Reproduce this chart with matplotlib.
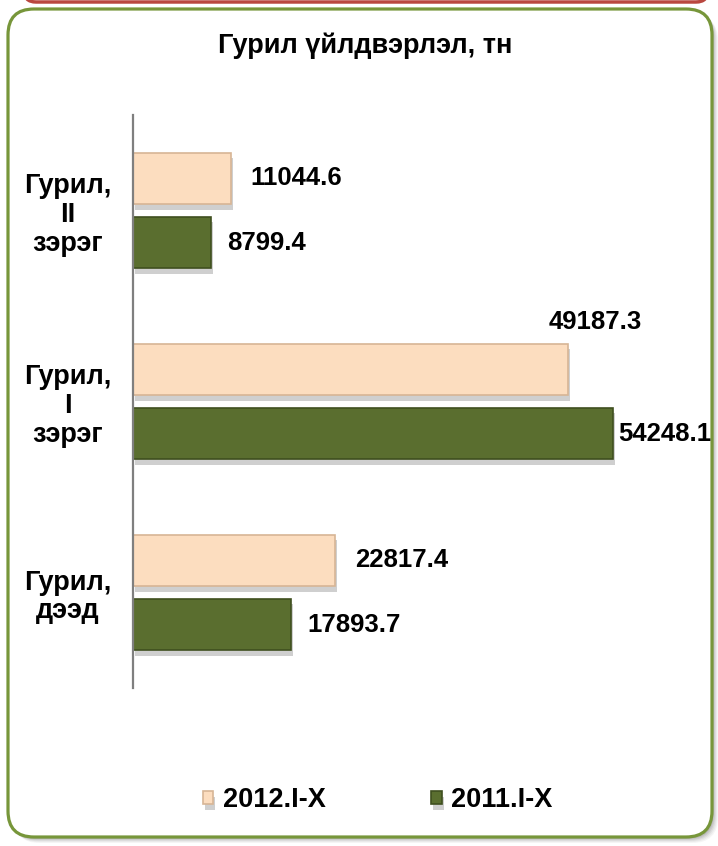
import matplotlib.pyplot as plt
import matplotlib.patheffects as pe
from matplotlib.patches import FancyBboxPatch

# data
categories = ["Гурил,\nII\nзэрэг", "Гурил,\nI\nзэрэг", "Гурил,\nдээд"]
series_names = ["2012.I-X", "2011.I-X"]
values_2012 = [11044.6, 49187.3, 22817.4]
values_2011 = [8799.4, 54248.1, 17893.7]
title = "Гурил үйлдвэрлэл, тн"

plt.rcParams['font.family'] = ['Liberation Sans', 'DejaVu Sans']

fig = plt.figure(figsize=(7.18, 8.46), dpi=100)

# background layer in pixel coordinates (frame, shadow)
bg = fig.add_axes([0, 0, 1, 1], zorder=-5)
bg.set_xlim(0, 718)
bg.set_ylim(846, 0)
bg.axis('off')
for i, a in enumerate([0.05, 0.06, 0.08, 0.1, 0.12]):
    d = 6 - i
    bg.add_patch(FancyBboxPatch((8 + d, 9 + d), 704, 828, boxstyle="round,pad=0,rounding_size=26",
                                facecolor='#404040', edgecolor='none', alpha=a))
bg.add_patch(FancyBboxPatch((8, 9), 704, 828, boxstyle="round,pad=0,rounding_size=26",
                            facecolor='white', edgecolor='#77963A', linewidth=2.3))
bg.add_patch(FancyBboxPatch((24, -60), 684, 62, boxstyle="round,pad=0,rounding_size=12",
                            facecolor='white', edgecolor='#B9473F', linewidth=2.5))

fig.text(0.508, 0.946, title, ha='center', va='center', fontsize=19.5, fontweight='bold')

ax = fig.add_axes([133 / 718, 1 - 688 / 846, 531 / 718, 573 / 846])
ax.set_xlim(0, 60000)
ax.set_ylim(-0.5, 2.5)
ypos = [2, 1, 0]
off = 0.168
h = 0.27

shadow = [pe.SimplePatchShadow(offset=(1.5, -4), shadow_rgbFace='#777777', alpha=0.35), pe.Normal()]
b1 = ax.barh([y + off for y in ypos], values_2012, height=h, color='#FCDDBF',
             edgecolor='#D7B595', linewidth=1.2, label=series_names[0])
b2 = ax.barh([y - off for y in ypos], values_2011, height=h, color='#5A6E2F',
             edgecolor='#3F4F1F', linewidth=1.2, label=series_names[1])
for b in list(b1) + list(b2):
    b.set_path_effects(shadow)

# value labels
for i, v in enumerate(values_2012):
    if v == max(values_2012) and max(values_2012) > 40000:
        ax.annotate(f"{v:.1f}", (v, ypos[i] + off), xytext=(27, 47), textcoords='offset pixels',
                    ha='center', va='center', fontsize=18.5, fontweight='bold')
    else:
        ax.annotate(f"{v:.1f}", (v, ypos[i] + off), xytext=(20, 0), textcoords='offset pixels',
                    ha='left', va='center', fontsize=18.5, fontweight='bold')
for i, v in enumerate(values_2011):
    dx = 5 if v == max(values_2011) else 16
    ax.annotate(f"{v:.1f}", (v, ypos[i] - off), xytext=(dx, 0), textcoords='offset pixels',
                ha='left', va='center', fontsize=18.5, fontweight='bold')

ax.set_yticks(ypos)
ax.set_yticklabels(categories, fontsize=19.5, fontweight='bold', ha='center', linespacing=1.15)
ax.tick_params(axis='y', length=0, pad=47)
ax.set_xticks([])
for s in ['top', 'right', 'bottom']:
    ax.spines[s].set_visible(False)
ax.spines['left'].set_color('#7F7F7F')
ax.spines['left'].set_linewidth(1.6)
ax.patch.set_alpha(0)

fig.legend(handles=[b1, b2], labels=series_names, loc='center', bbox_to_anchor=(0.526, 0.054),
           ncol=2, frameon=False, prop={'weight': 'bold', 'size': 19.5},
           handlelength=0.38, handleheight=0.38, handletextpad=0.35, columnspacing=3.9)

fig.savefig('out.png', dpi=100)
